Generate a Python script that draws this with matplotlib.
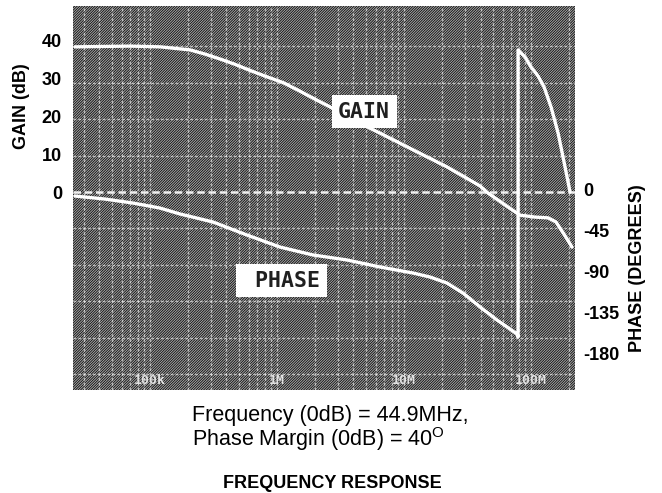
import numpy as np
import matplotlib
matplotlib.use("Agg")
import matplotlib.pyplot as plt
from matplotlib.patches import Rectangle
from matplotlib.ticker import LogLocator, FixedLocator, NullFormatter

plt.rcParams['font.family'] = ['Liberation Sans', 'DejaVu Sans']
plt.rcParams['mathtext.default'] = 'regular'
plt.rcParams['hatch.linewidth'] = 0.7

# values
gain_f = [25.67e3, 69.58e3, 119.9e3, 206.5e3, 271.2e3, 355.9e3, 467e3, 613e3, 804.6e3,
          1.115e6, 1.464e6, 1.921e6, 2.615e6, 3.558e6, 6.471e6, 11.77e6, 21.81e6,
          39.67e6, 45.86e6, 62.42e6, 81.93e6, 107.5e6, 136.1e6, 157.3e6, 181.9e6, 210.3e6]
gain_db = [38.2, 38.4, 38.2, 37.4, 36.3, 35.0, 33.6, 32.0, 30.5,
           28.8, 26.8, 24.7, 22.4, 19.7, 15.5, 11.1, 6.6,
           1.6, -0.3, -3.4, -6.1, -6.6, -6.8, -7.9, -11.1, -14.5]

phase_f = [25.67e3, 44.23e3, 73.48e3, 119.9e3, 172.3e3, 313.5e3, 580.3e3, 1.056e6,
           1.921e6, 3.558e6, 6.471e6, 11.77e6, 16.02e6, 21.81e6, 29.15e6, 39.67e6,
           53.99e6, 77.59e6, 79.0e6, 79.0e6, 89.71e6, 100e6, 113.5e6, 126.6e6,
           143.7e6, 163.2e6, 181.9e6, 202.8e6]
phase_deg = [-7.7, -11.0, -15.4, -20.9, -27.4, -36.2, -50.5, -63.7,
             -72.4, -77.9, -85.6, -92.2, -96.6, -103.2, -114.2, -129.5,
             -143.8, -159.2, -162.5, 152.6, 144.9, 133.9, 124.0, 112.0,
             90.0, 61.5, 29.6, -3.3]

gain_ticks = [0, 10, 20, 30, 40]
phase_ticks = [0, -45, -90, -135, -180]
freq_marks = [100e3, 1e6, 10e6, 100e6]
freq_names = ["100k", "1M", "10M", "100M"]

fig = plt.figure(figsize=(6.62, 4.93), dpi=100)
ax = fig.add_axes([73/662, 1 - 390/493, 502/662, 384/493])

ax.set_xscale('log')
ax.set_xlim(24770, 2.218e8)
ax.set_ylim(-52.1, 48.95)

# screen texture
ax.set_facecolor('#0a0a0a')
ax.add_patch(Rectangle((0, 0), 1, 1, transform=ax.transAxes, facecolor='none',
                       edgecolor='#a8a8a8', hatch='/' * 13, lw=0, zorder=0))

# graticule
ax.xaxis.set_minor_locator(LogLocator(base=10, subs=np.arange(2, 10)))
ax.xaxis.set_minor_formatter(NullFormatter())
ax.yaxis.set_minor_locator(FixedLocator(np.arange(-5, 5) * 9.6))
ax.grid(True, which='both', axis='x', color='white', alpha=0.6, lw=1.0, ls=(0, (2, 1.5)))
ax.grid(True, which='minor', axis='y', color='white', alpha=0.6, lw=1.0, ls=(0, (2, 1.5)))
ax.axhline(0, color='white', lw=1.8, ls=(0, (3, 1.5)), alpha=0.9)

for s in ax.spines.values():
    s.set_visible(False)

ax.set_yticks(gain_ticks)
ax.set_yticklabels([str(t) for t in gain_ticks], fontsize=13, fontweight='bold')
ax.tick_params(axis='y', which='both', length=0, pad=8)
ax.tick_params(axis='x', which='both', length=0, labelbottom=False)

ax2 = ax.twinx()
ax2.set_ylim(-220.6, 200.9)
ax2.set_yticks(phase_ticks)
ax2.set_yticklabels([str(t) for t in phase_ticks], fontsize=13, fontweight='bold')
ax2.tick_params(axis='y', length=0, pad=6)
for s in ax2.spines.values():
    s.set_visible(False)

ax.plot(gain_f, gain_db, color='white', lw=2.4, solid_capstyle='round',
        solid_joinstyle='round', zorder=3)
ax2.plot(phase_f, phase_deg, color='white', lw=2.4, solid_capstyle='round',
         solid_joinstyle='round', zorder=3)

for f, name in zip(freq_marks, freq_names):
    ax.text(f, -49.5, name, ha='center', va='center', fontsize=9.5,
            family='DejaVu Sans Mono', fontweight='bold', color='#e0e0e0', zorder=4)

box = dict(boxstyle='square,pad=0.3', facecolor='white', edgecolor='none')
ax.text(0.580, 0.725, "GAIN", transform=ax.transAxes, ha='center', va='center',
        fontsize=15.5, family='DejaVu Sans Mono', fontweight='bold', color='#202020',
        bbox=box, zorder=5)
ax.text(0.415, 0.285, " PHASE", transform=ax.transAxes, ha='center', va='center',
        fontsize=15.5, family='DejaVu Sans Mono', fontweight='bold', color='#202020',
        bbox=box, zorder=5)

fig.text(22/662, 1 - 106/493, "GAIN (dB)", rotation=90, ha='center', va='center',
         fontsize=13, fontweight='bold')
fig.text(637/662, 1 - 268/493, "PHASE (DEGREES)", rotation=90, ha='center', va='center',
         fontsize=13, fontweight='bold')

fig.text(192/662, 1 - 415/493, "Frequency (0dB) = 44.9MHz,", ha='left', va='center',
         fontsize=15.5)
fig.text(192/662, 1 - 439/493, "Phase Margin (0dB) = 40$^{O}$", ha='left', va='center',
         fontsize=15.5)
fig.text(332/662, 1 - 484/493, "FREQUENCY RESPONSE", ha='center', va='center',
         fontsize=13, fontweight='bold')

fig.savefig("out.png", dpi=100)
